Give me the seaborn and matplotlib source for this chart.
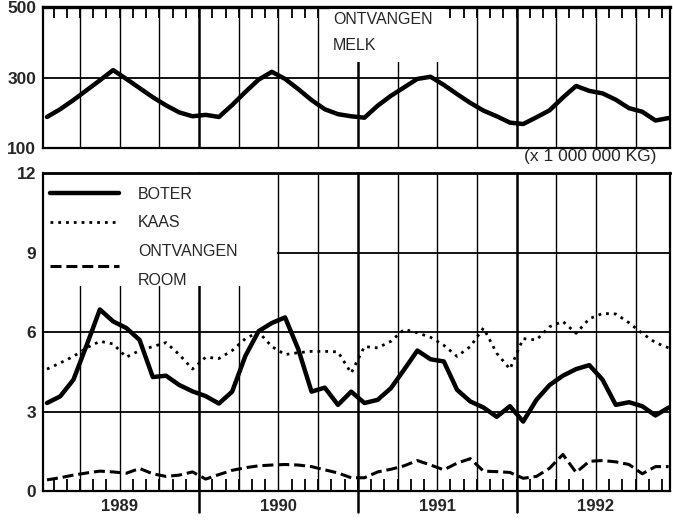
import numpy as np
import matplotlib.pyplot as plt
from matplotlib.patches import Rectangle
import seaborn as sns

# monthly figures, jan 1989 - dec 1992
years = ['1989', '1990', '1991', '1992']

# ontvangen melk (x 1 000 000 kg)
melk = [188, 210, 236, 264, 292, 321, 296, 270, 244, 221, 201, 190,
        194, 188, 222, 259, 294, 316, 296, 267, 236, 210, 196, 190,
        186, 220, 248, 272, 296, 302, 279, 253, 228, 206, 190, 172,
        168, 187, 207, 243, 276, 262, 255, 237, 213, 203, 178, 185]

boter = [3.32, 3.57, 4.2, 5.5, 6.85, 6.4, 6.15, 5.7, 4.3, 4.35, 4.0, 3.76,
         3.58, 3.3, 3.75, 5.1, 6.03, 6.34, 6.55, 5.35, 3.75, 3.9, 3.25, 3.75,
         3.32, 3.44, 3.88, 4.58, 5.3, 4.97, 4.89, 3.82, 3.38, 3.15, 2.8, 3.2,
         2.62, 3.44, 4.0, 4.35, 4.6, 4.75, 4.2, 3.25, 3.35, 3.2, 2.85, 3.15]

kaas = [4.6, 4.83, 5.08, 5.4, 5.65, 5.55, 5.05, 5.3, 5.45, 5.6, 5.15, 4.6,
        5.05, 5.0, 5.3, 5.75, 6.0, 5.45, 5.15, 5.22, 5.27, 5.27, 5.25, 4.45,
        5.45, 5.4, 5.65, 6.1, 5.97, 5.8, 5.5, 5.08, 5.45, 6.15, 5.2, 4.6,
        5.75, 5.7, 6.2, 6.4, 5.95, 6.5, 6.7, 6.68, 6.35, 5.95, 5.6, 5.4]

room = [0.42, 0.5, 0.6, 0.68, 0.75, 0.72, 0.67, 0.85, 0.65, 0.55, 0.6, 0.72,
        0.45, 0.62, 0.78, 0.88, 0.95, 0.98, 1.0, 0.98, 0.92, 0.8, 0.68, 0.5,
        0.5, 0.72, 0.82, 0.95, 1.15, 0.98, 0.8, 1.05, 1.22, 0.75, 0.73, 0.7,
        0.48, 0.55, 0.86, 1.38, 0.7, 1.12, 1.15, 1.1, 1.0, 0.65, 0.92, 0.92]

# x in months since 1 jan 1989, points in the middle of each month
x = np.arange(len(melk)) + 0.5

sns.set_style('white')
plt.rcParams['font.family'] = ['Liberation Sans', 'DejaVu Sans']

fig = plt.figure(figsize=(6.73, 5.26), dpi=100)
ax1 = fig.add_axes([43/673, 1 - 148/526, 627/673, 141/526])
ax2 = fig.add_axes([43/673, 35/526, 627/673, 318/526])

quarters = [m for m in range(3, 48, 3) if m % 12 != 0]
year_lines = [12, 24, 36]

for ax in (ax1, ax2):
    ax.set_xlim(0.2, 47.6)
    for q in quarters:
        ax.axvline(q, color='black', lw=1.0, zorder=1)
    for spine in ax.spines.values():
        spine.set_color('black')
        spine.set_linewidth(1.6)
    ax.set_xticks(np.arange(1, 48), minor=True)

for yl in year_lines:
    ax1.axvline(yl, color='black', lw=1.8, zorder=1)
    ax2.axvline(yl, color='black', lw=1.8, zorder=1, ymin=-0.066, clip_on=False)

# top panel: milk
ax1.axhline(300, color='black', lw=1.3, zorder=1)
sns.lineplot(x=x, y=melk, ax=ax1, color='black', lw=3.2, zorder=3)
ax1.set_ylim(100, 500)
ax1.set_yticks([100, 300, 500])
ax1.set_xticks([])
ax1.tick_params(axis='y', length=0, pad=5)
ax1.tick_params(axis='x', which='minor', top=True, bottom=False,
                direction='in', length=8, width=1.3, color='black')
ax1.spines['top'].set_linewidth(2.4)
for lab in ax1.get_yticklabels():
    lab.set_fontweight('bold')
    lab.set_fontsize(12.5)

ax1.add_patch(Rectangle(((330 - 43) / 627, (148 - 62) / 141),
                        (446 - 330) / 627, (62 - 9) / 141,
                        transform=ax1.transAxes, facecolor='white',
                        edgecolor='none', zorder=2.6))
ax1.text((333 - 43) / 627, (148 - 20) / 141, 'ONTVANGEN', transform=ax1.transAxes,
         fontsize=11.5, va='center', ha='left', zorder=4)
ax1.text((333 - 43) / 627, (148 - 46) / 141, 'MELK', transform=ax1.transAxes,
         fontsize=11.5, va='center', ha='left', zorder=4)
ax1.text((656 - 43) / 627, -9 / 141, '(x 1 000 000 KG)', transform=ax1.transAxes,
         fontsize=12.5, va='center', ha='right')

# lower panel: butter, cheese, cream
for yv in [3, 6, 9]:
    ax2.axhline(yv, color='black', lw=1.3, zorder=1)
ax2.add_patch(Rectangle((0, (491 - 286) / 318), (277 - 43) / 627, 1 - (491 - 286) / 318,
                        transform=ax2.transAxes, facecolor='white',
                        edgecolor='none', zorder=1.5))

sns.lineplot(x=x, y=boter, ax=ax2, color='black', lw=3.2, zorder=3, label='BOTER')
sns.lineplot(x=x, y=kaas, ax=ax2, color='black', lw=2.0, zorder=3,
             linestyle=(0, (1, 1.8)), label='KAAS')
sns.lineplot(x=x, y=room, ax=ax2, color='black', lw=2.2, zorder=3,
             linestyle=(0, (3.6, 1.6)), label='ONTVANGEN\nROOM')

ax2.set_ylim(0, 12)
ax2.set_yticks([0, 3, 6, 9, 12])
ax2.set_xticks([6, 18, 30, 42])
ax2.set_xticklabels(years)
ax2.tick_params(axis='y', length=0, pad=5)
ax2.tick_params(axis='x', which='major', length=0, pad=6)
ax2.tick_params(axis='x', which='minor', bottom=True, direction='in',
                length=9, width=1.3, color='black')
ax2.spines['top'].set_linewidth(2.0)
for lab in ax2.get_yticklabels():
    lab.set_fontweight('bold')
    lab.set_fontsize(12.5)
for lab in ax2.get_xticklabels():
    lab.set_fontweight('bold')
    lab.set_fontsize(12)

leg = ax2.legend(loc='upper left', bbox_to_anchor=(-0.01, 1.0), frameon=False,
                 fontsize=11.5, handlelength=4.3, handletextpad=1.2,
                 labelspacing=0.85, borderaxespad=0.45)
leg.get_texts()[2].set_linespacing(2.15)
leg.set_zorder(5)

ax1.set_ylabel('')
ax2.set_ylabel('')

fig.savefig('out.png', dpi=100, facecolor='white')
